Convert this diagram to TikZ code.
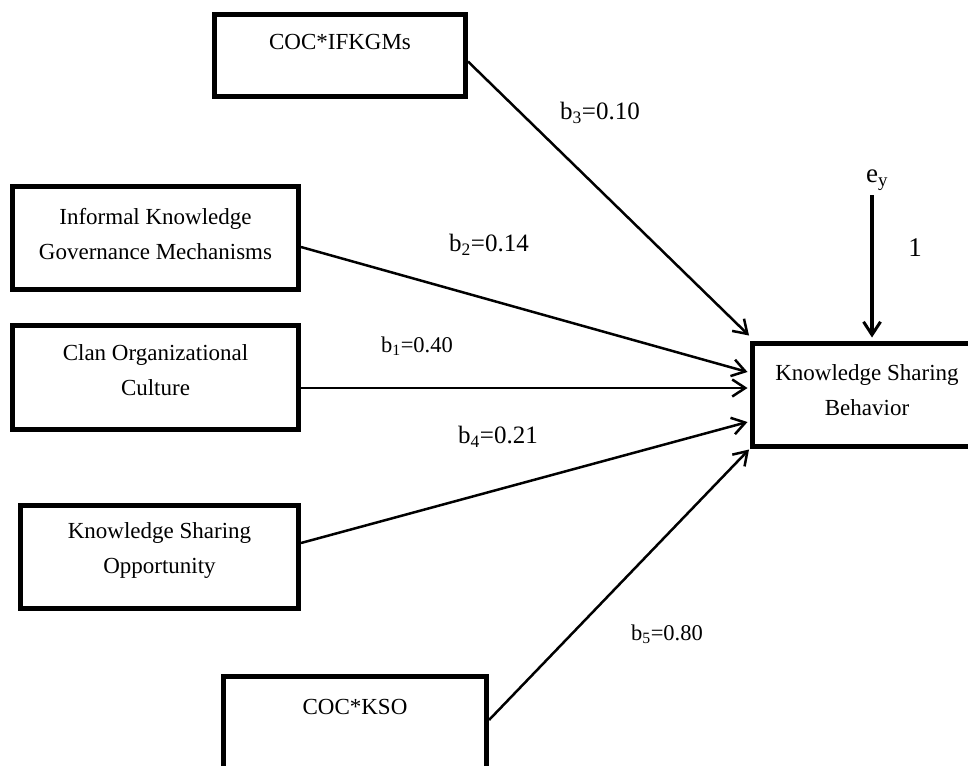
\documentclass[tikz,border=0pt]{standalone}
\usepackage{fontspec}
\setmainfont{Liberation Serif}
\usetikzlibrary{arrows.meta}
\tikzset{
  box/.style={draw=black, line width=5pt, rectangle, inner sep=0pt, fill=white},
  boxtext/.style={align=center, font=\fontsize{23}{35}\selectfont, inner sep=0pt},
  coef/.style={font=\fontsize{25}{28}\selectfont, inner sep=0pt},
  coefs/.style={font=\fontsize{22.5}{26}\selectfont, inner sep=0pt},
  errlab/.style={font=\fontsize{27}{30}\selectfont, inner sep=0pt},
  path/.style={line width=2.5pt, -{Straight Barb[length=13pt,width=17pt,line width=2.5pt]}},
  errarrow/.style={line width=4pt, -{Straight Barb[length=13pt,width=17pt,line width=3pt]}}
}
\begin{document}
\begin{tikzpicture}[x=1pt,y=-1pt]
\useasboundingbox (0,0) rectangle (968,765);
\clip (0,0) rectangle (968,765);
\fill[white] (0,0) rectangle (968,765);

% boxes
\node[box, minimum width=251pt, minimum height=82pt] (ifk) at (340,55.5) {};
\node[boxtext] (ifkt) at (340,42) {COC*IFKGMs};

\node[box, minimum width=286pt, minimum height=103pt] (inf) at (155.5,238) {};
\node[boxtext] (inft) at (155.5,234) {Informal Knowledge\\Governance Mechanisms};

\node[box, minimum width=286pt, minimum height=104pt] (clan) at (155.5,377.5) {};
\node[boxtext] (clant) at (155.5,370) {Clan Organizational\\Culture};

\node[box, minimum width=278pt, minimum height=103pt] (kso) at (159.5,557) {};
\node[boxtext] (ksot) at (159.5,550) {Knowledge Sharing\\Opportunity};

\node[box, minimum width=263pt, minimum height=124pt] (cks) at (355,738.5) {};
\node[boxtext] (ckst) at (355,707) {COC*KSO};

\node[box, minimum width=250pt, minimum height=103pt] (ksb) at (877.5,394.5) {};
\node[boxtext] (ksbt) at (867,390) {Knowledge Sharing\\Behavior};

% error term
\node[errlab] (ey) at (877,180) {e\textsubscript{y}};
\node[errlab] (one) at (915,248) {1};

% connectors
\draw[path] ([yshift=-6pt]ifk.east) -- ([xshift=-1pt,yshift=5pt]ksb.north west);
\draw[path] ([yshift=-9pt]inf.east) -- ([xshift=-2.5pt,yshift=22.5pt]ksb.west);
\draw[path] ([yshift=-10.5pt]clan.east) -- ([xshift=-2.5pt,yshift=6.5pt]ksb.west);
\draw[path] ([yshift=14pt]kso.east) -- ([xshift=-2.5pt,yshift=-27.5pt]ksb.west);
\draw[path] ([yshift=18.5pt]cks.east) -- ([xshift=-1pt,yshift=-1pt]ksb.south west);
\draw[errarrow] ([xshift=-5pt,yshift=-5pt]ey.south) -- ([xshift=-5.5pt,yshift=3pt]ksb.north);

% coefficients
\node[coef] (l3) at (600,113) {b\textsubscript{3}=0.10};
\node[coef] (l2) at (489,245) {b\textsubscript{2}=0.14};
\node[coefs] (l1) at (417,346) {b\textsubscript{1}=0.40};
\node[coef] (l4) at (498,437) {b\textsubscript{4}=0.21};
\node[coefs] (l5) at (667,634) {b\textsubscript{5}=0.80};
\end{tikzpicture}
\end{document}
